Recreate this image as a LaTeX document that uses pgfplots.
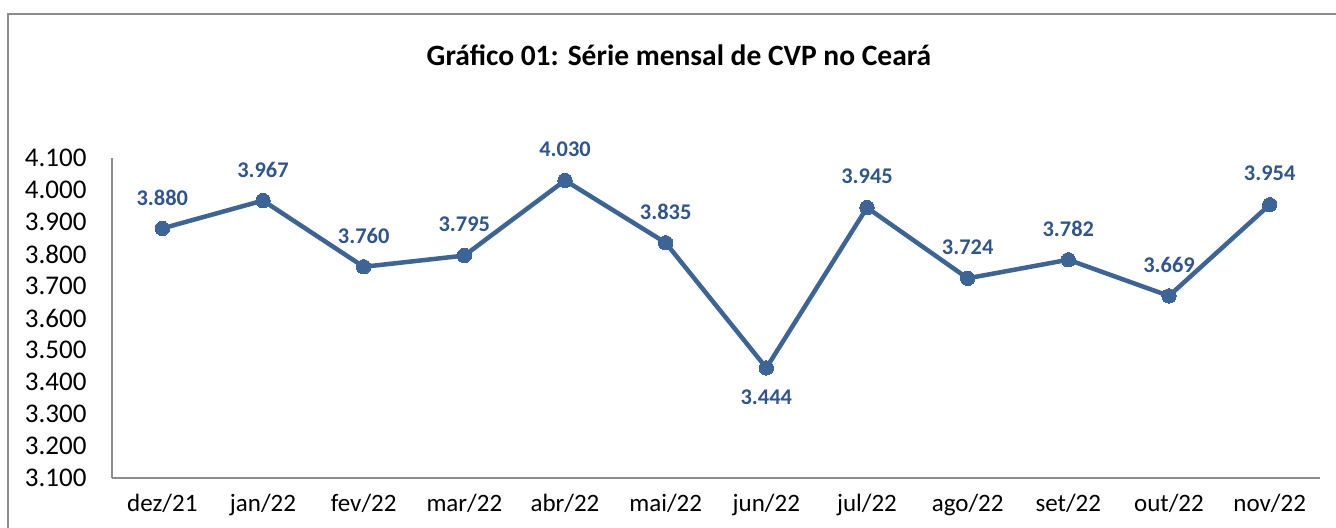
\documentclass[border=0pt]{standalone}
\usepackage{fontspec}
\setmainfont{Carlito}
\usepackage{pgfplots}
\pgfplotsset{compat=1.18}
\definecolor{linec}{HTML}{3C6496}
\definecolor{labc}{HTML}{2F5590}
\definecolor{framec}{HTML}{8C8C8C}
\begin{document}
\begin{tikzpicture}
\useasboundingbox (0,0) rectangle (1336bp,528bp);
\draw[framec, line width=1.6bp] (8bp,-2bp) -- (8bp,514bp) -- (1340bp,514bp);
\node[font=\bfseries\fontsize{29.5bp}{33bp}\selectfont] at (679bp,473bp) {Gráfico 01: Série mensal de CVP no Ceará};
\begin{axis}[
  at={(112bp,50bp)}, anchor=south west,
  width=1208bp, height=320bp, scale only axis,
  xmin=-0.5, xmax=11.5, ymin=3.1, ymax=4.1,
  axis x line*=bottom, axis y line*=left,
  axis line style={framec, line width=1.2bp},
  xtick={0,...,11},
  xticklabels={dez/21,jan/22,fev/22,mar/22,abr/22,mai/22,jun/22,jul/22,ago/22,set/22,out/22,nov/22},
  ytick={3.1,3.2,...,4.1},
  major tick length=0pt,
  xticklabel style={font=\fontsize{25bp}{29bp}\selectfont, yshift=-13bp},
  yticklabel style={font=\fontsize{27bp}{31bp}\selectfont, xshift=-22bp},
  yticklabel={\pgfmathprintnumber[fixed, fixed zerofill, precision=3, assume math mode=true]{\tick}},
  clip=false,
]
\addplot[linec, line width=4.5bp, mark=*, mark size=7.2bp, mark options={fill=linec, draw=linec, line width=0pt}] coordinates {
(0,3.880) (1,3.967) (2,3.760) (3,3.795) (4,4.030) (5,3.835) (6,3.444) (7,3.945) (8,3.724) (9,3.782) (10,3.669) (11,3.954)};
\addplot[draw=none, mark=none, nodes near coords={\pgfmathprintnumber[fixed, fixed zerofill, precision=3, assume math mode=true]{\pgfplotspointmeta}}, point meta=y,
  nodes near coords style={labc, font=\bfseries\fontsize{22.4bp}{26bp}\selectfont, anchor=center, yshift=31bp}] coordinates {
(0,3.880) (1,3.967) (2,3.760) (3,3.795) (4,4.030) (5,3.835) (7,3.945) (8,3.724) (9,3.782) (10,3.669) (11,3.954)};
\addplot[draw=none, mark=none, nodes near coords={\pgfmathprintnumber[fixed, fixed zerofill, precision=3, assume math mode=true]{\pgfplotspointmeta}}, point meta=y,
  nodes near coords style={labc, font=\bfseries\fontsize{22.4bp}{26bp}\selectfont, anchor=center, yshift=-29bp}] coordinates {
(6,3.444)};
\end{axis}
\end{tikzpicture}
\end{document}
